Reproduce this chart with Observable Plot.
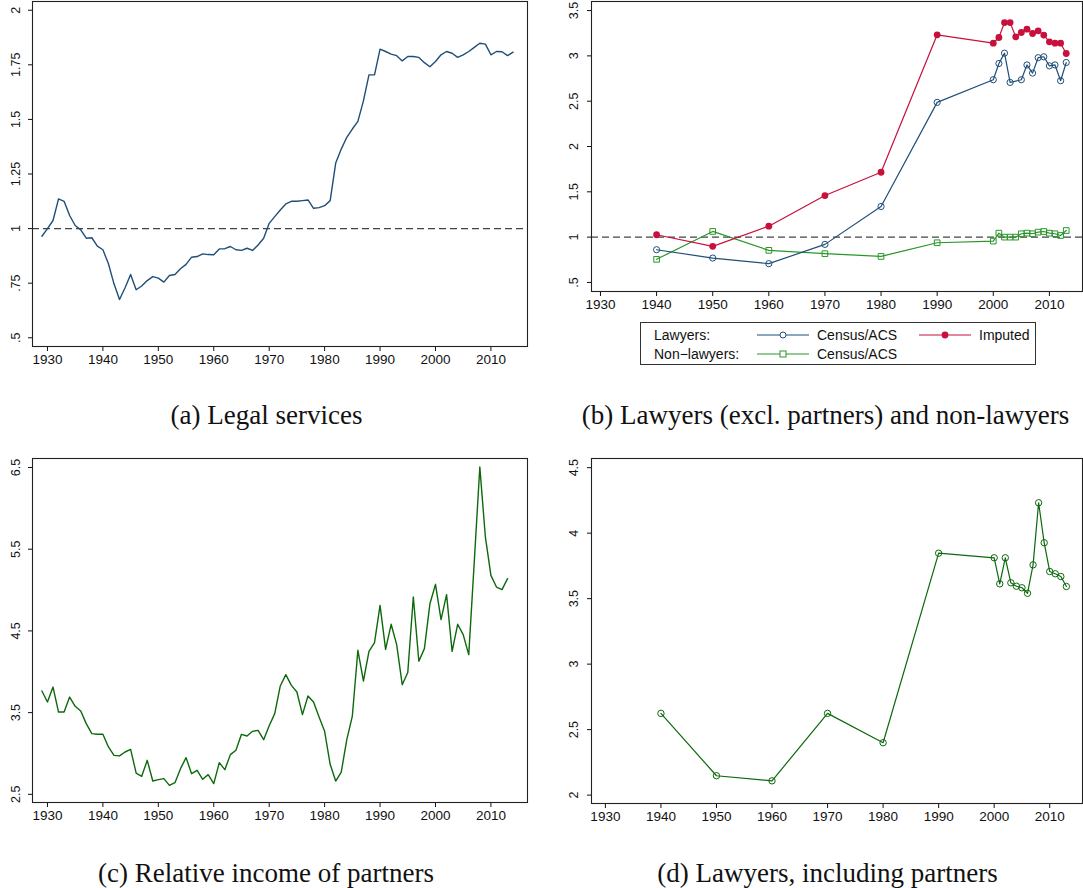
<!DOCTYPE html>
<html><head><meta charset="utf-8">
<script src="https://cdn.jsdelivr.net/npm/d3@7"></script>
<script src="https://cdn.jsdelivr.net/npm/@observablehq/plot@0.6"></script>
<style>
body{margin:0;background:#fff;}
#fig{position:relative;width:1083px;height:888px;overflow:hidden;font-family:"Liberation Sans",Arial,sans-serif;color:#111;}
.panel{position:absolute;}
.cap{position:absolute;font-family:"Liberation Serif","Times New Roman",serif;font-size:27px;line-height:27px;transform:translateX(-50%);white-space:nowrap;color:#111;}
#legend{position:absolute;left:640px;top:322px;width:396px;height:43px;border:1px solid #333;box-sizing:border-box;font-size:14px;}
#legend span{position:absolute;line-height:14px;white-space:nowrap;}
#legend svg{position:absolute;}
</style>
</head><body>
<div id="fig"></div>
<script>
// ---------- data ----------
const xTickYears = [1930,1940,1950,1960,1970,1980,1990,2000,2010];

// (a) Legal services, annual 1929-2014
const legalStart = 1929;
const legalServices = [
 0.965,1.0,1.037,1.136,1.125,1.06,1.014,0.994,0.956,0.958,
 0.92,0.903,0.839,0.747,0.675,0.729,0.79,0.72,0.737,0.762,
 0.78,0.773,0.755,0.785,0.79,0.816,0.836,0.869,0.872,0.884,
 0.881,0.88,0.907,0.908,0.918,0.903,0.9,0.91,0.9,0.925,
 0.956,1.024,1.055,1.085,1.113,1.125,1.125,1.128,1.131,1.093,
 1.096,1.105,1.128,1.3,1.364,1.418,1.456,1.491,1.585,1.704,
 1.704,1.822,1.811,1.799,1.792,1.768,1.788,1.788,1.784,1.76,
 1.741,1.765,1.796,1.811,1.803,1.784,1.796,1.811,1.83,1.849,
 1.845,1.796,1.811,1.81,1.792,1.808
];
const yTicksA = [0.5,0.75,1,1.25,1.5,1.75,2];
const yLabelsA = [".5",".75","1","1.25","1.5","1.75","2"];

// (b) Lawyers (excl. partners) and non-lawyers
const yearsB = [1940,1950,1960,1970,1980,1990,2000,2001,2002,2003,2004,2005,2006,2007,2008,2009,2010,2011,2012,2013];
const lawyersYears = [1940,1950,1960,1970,1980,1990,2000,2001,2002,2003,2005,2006,2007,2008,2009,2010,2011,2012,2013];
const lawyersCensus = [0.861,0.769,0.707,0.92,1.338,2.487,2.737,2.916,3.03,2.707,2.737,2.90,2.81,2.98,2.99,2.89,2.90,2.726,2.927];
const lawyersImputed = [1.026,0.898,1.121,1.459,1.716,3.232,3.14,3.203,3.368,3.368,3.21,3.258,3.295,3.247,3.276,3.229,3.155,3.14,3.14,3.026];
const nonLawyersCensus = [0.755,1.063,0.854,0.817,0.787,0.938,0.956,1.044,1.0,1.0,1.0,1.037,1.044,1.037,1.055,1.062,1.044,1.037,1.018,1.073];
const yTicksB = [0.5,1,1.5,2,2.5,3,3.5];
const yLabelsB = [".5","1","1.5","2","2.5","3","3.5"];

// (c) Relative income of partners, annual 1929-2013
const partnersStart = 1929;
const partnersIncome = [
 3.765,3.63,3.813,3.507,3.507,3.69,3.577,3.52,3.365,3.243,
 3.235,3.235,3.08,2.977,2.97,3.018,3.05,2.76,2.72,2.916,
 2.663,2.68,2.692,2.61,2.643,2.814,2.949,2.753,2.794,2.684,
 2.741,2.631,2.888,2.802,2.986,3.039,3.234,3.214,3.271,3.283,
 3.169,3.34,3.488,3.826,3.965,3.834,3.752,3.475,3.703,3.63,
 3.446,3.271,2.867,2.663,2.773,3.169,3.458,4.263,3.887,4.25,
 4.357,4.813,4.275,4.581,4.332,3.842,3.99,4.915,4.128,4.283,
 4.833,5.07,4.638,4.944,4.25,4.581,4.455,4.21,5.35,6.506,
 5.65,5.18,5.037,5.005,5.14
];
const yTicksC = [2.5,3.5,4.5,5.5,6.5];
const yLabelsC = ["2.5","3.5","4.5","5.5","6.5"];

// (d) Lawyers, including partners
const yearsD = [1940,1950,1960,1970,1980,1990,2000,2001,2002,2003,2004,2005,2006,2007,2008,2009,2010,2011,2012,2013];
const lawyersInclPartners = [2.624,2.148,2.109,2.624,2.40,3.847,3.812,3.613,3.812,3.621,3.595,3.583,3.541,3.758,4.232,3.927,3.707,3.69,3.669,3.593];
const yTicksD = [2,2.5,3,3.5,4,4.5];
const yLabelsD = ["2","2.5","3","3.5","4","4.5"];

const captions = [
  "(a) Legal services",
  "(b) Lawyers (excl. partners) and non-lawyers",
  "(c) Relative income of partners",
  "(d) Lawyers, including partners"
];

// ---------- colors ----------
const navy = "#1f4e79", cranberry = "#c8103c", green = "#2a962a", dkgreen = "#0c690c";

// ---------- build ----------
const fig = document.getElementById("fig");

function panel({left, top, width, height, margins, xDomain, yDomain, yTicks, yLabels, labelDx, marks}) {
  const svg = Plot.plot({
    width, height,
    marginLeft: margins[0], marginRight: margins[1], marginTop: margins[2], marginBottom: margins[3],
    x: {domain: xDomain, label: null},
    y: {domain: yDomain, label: null},
    style: {fontFamily: "'Liberation Sans', Arial, sans-serif", fontSize: "13.5px", color: "#111", background: "transparent", overflow: "visible"},
    marks: [
      ...marks,
      Plot.axisX({ticks: xTickYears, tickSize: 5, tickPadding: 3, tickFormat: d => String(d), label: null, fontSize: 13.5}),
      Plot.axisY({ticks: yTicks, tickSize: 4, tickFormat: () => "", label: null}),
      Plot.text(yTicks, {y: d => d, text: (d, i) => yLabels[i], frameAnchor: "left", textAnchor: "middle", dx: labelDx, rotate: -90, fontSize: 12.5, fill: "#111"}),
      Plot.frame({stroke: "#222", strokeWidth: 1.1})
    ]
  });
  const div = document.createElement("div");
  div.className = "panel";
  div.style.left = left + "px";
  div.style.top = top + "px";
  div.appendChild(svg);
  fig.appendChild(div);
}

const dataA = legalServices.map((v, i) => ({year: legalStart + i, value: v}));
const dataC = partnersIncome.map((v, i) => ({year: partnersStart + i, value: v}));
const dataLaw = lawyersCensus.map((v, i) => ({year: lawyersYears[i], value: v}));
const dataImp = lawyersImputed.map((v, i) => ({year: yearsB[i], value: v}));
const dataNon = nonLawyersCensus.map((v, i) => ({year: yearsB[i], value: v}));
const dataD = lawyersInclPartners.map((v, i) => ({year: yearsD[i], value: v}));

panel({
  left: 0, top: 0, width: 535, height: 372, margins: [32, 8, 1, 26],
  xDomain: [1927.3, 2016.6], yDomain: [0.46, 2.04],
  yTicks: yTicksA, yLabels: yLabelsA, labelDx: -17,
  marks: [
    Plot.ruleY([1], {stroke: "#444", strokeWidth: 1.4, strokeDasharray: "7,4"}),
    Plot.line(dataA, {x: "year", y: "value", stroke: navy, strokeWidth: 1.4})
  ]
});

panel({
  left: 545, top: 0, width: 538, height: 317, margins: [46, 1, 1, 26],
  xDomain: [1928.4, 2015.9], yDomain: [0.40, 3.6],
  yTicks: yTicksB, yLabels: yLabelsB, labelDx: -18,
  marks: [
    Plot.ruleY([1], {stroke: "#444", strokeWidth: 1.4, strokeDasharray: "7,4"}),
    Plot.line(dataNon, {x: "year", y: "value", stroke: green, strokeWidth: 1.2}),
    Plot.dot(dataNon, {x: "year", y: "value", symbol: "square", r: 3.2, stroke: green, fill: "none", strokeWidth: 1}),
    Plot.line(dataLaw, {x: "year", y: "value", stroke: navy, strokeWidth: 1.2}),
    Plot.dot(dataLaw, {x: "year", y: "value", r: 3.1, stroke: navy, fill: "none", strokeWidth: 1}),
    Plot.line(dataImp, {x: "year", y: "value", stroke: cranberry, strokeWidth: 1.2}),
    Plot.dot(dataImp, {x: "year", y: "value", r: 3.4, fill: cranberry, stroke: "none"})
  ]
});

panel({
  left: 0, top: 450, width: 535, height: 380, margins: [32, 8, 8, 28],
  xDomain: [1927.3, 2016.6], yDomain: [2.40, 6.61],
  yTicks: yTicksC, yLabels: yLabelsC, labelDx: -17,
  marks: [
    Plot.line(dataC, {x: "year", y: "value", stroke: dkgreen, strokeWidth: 1.4})
  ]
});

panel({
  left: 545, top: 450, width: 538, height: 380, margins: [46, 1, 8, 27],
  xDomain: [1927.5, 2015.9], yDomain: [1.936, 4.57],
  yTicks: yTicksD, yLabels: yLabelsD, labelDx: -18,
  marks: [
    Plot.line(dataD, {x: "year", y: "value", stroke: dkgreen, strokeWidth: 1.2}),
    Plot.dot(dataD, {x: "year", y: "value", r: 3.2, stroke: dkgreen, fill: "none", strokeWidth: 1})
  ]
});

// legend for panel (b)
const legend = document.createElement("div");
legend.id = "legend";
function icon(x, y, color, kind) {
  const ns = "http://www.w3.org/2000/svg";
  const s = document.createElementNS(ns, "svg");
  s.setAttribute("width", 54); s.setAttribute("height", 12);
  s.style.left = x + "px"; s.style.top = y + "px";
  const l = document.createElementNS(ns, "line");
  l.setAttribute("x1", 1); l.setAttribute("x2", 53); l.setAttribute("y1", 6); l.setAttribute("y2", 6);
  l.setAttribute("stroke", color); l.setAttribute("stroke-width", 1.2);
  s.appendChild(l);
  let m;
  if (kind === "square") {
    m = document.createElementNS(ns, "rect");
    m.setAttribute("x", 24); m.setAttribute("y", 3); m.setAttribute("width", 6); m.setAttribute("height", 6);
    m.setAttribute("fill", "#fff"); m.setAttribute("stroke", color);
  } else {
    m = document.createElementNS(ns, "circle");
    m.setAttribute("cx", 27); m.setAttribute("cy", 6); m.setAttribute("r", kind === "filled" ? 3.4 : 3);
    m.setAttribute("fill", kind === "filled" ? color : "#fff");
    m.setAttribute("stroke", kind === "filled" ? "none" : color);
  }
  s.appendChild(m);
  legend.appendChild(s);
}
function label(x, y, t) {
  const sp = document.createElement("span");
  sp.textContent = t; sp.style.left = x + "px"; sp.style.top = y + "px";
  legend.appendChild(sp);
}
label(13, 5, "Lawyers:");
label(13, 24, "Non\u2212lawyers:");
icon(115, 6, navy, "hollow");
label(176, 5, "Census/ACS");
icon(277, 6, cranberry, "filled");
label(338, 5, "Imputed");
icon(115, 25, green, "square");
label(176, 24, "Census/ACS");
fig.appendChild(legend);

// captions
const capPos = [[266.5, 401.5], [825.5, 401.5], [266, 859.5], [827.5, 859.5]];
captions.forEach((t, i) => {
  const c = document.createElement("div");
  c.className = "cap";
  c.textContent = t;
  c.style.left = capPos[i][0] + "px";
  c.style.top = capPos[i][1] + "px";
  fig.appendChild(c);
});
</script>
</body></html>
